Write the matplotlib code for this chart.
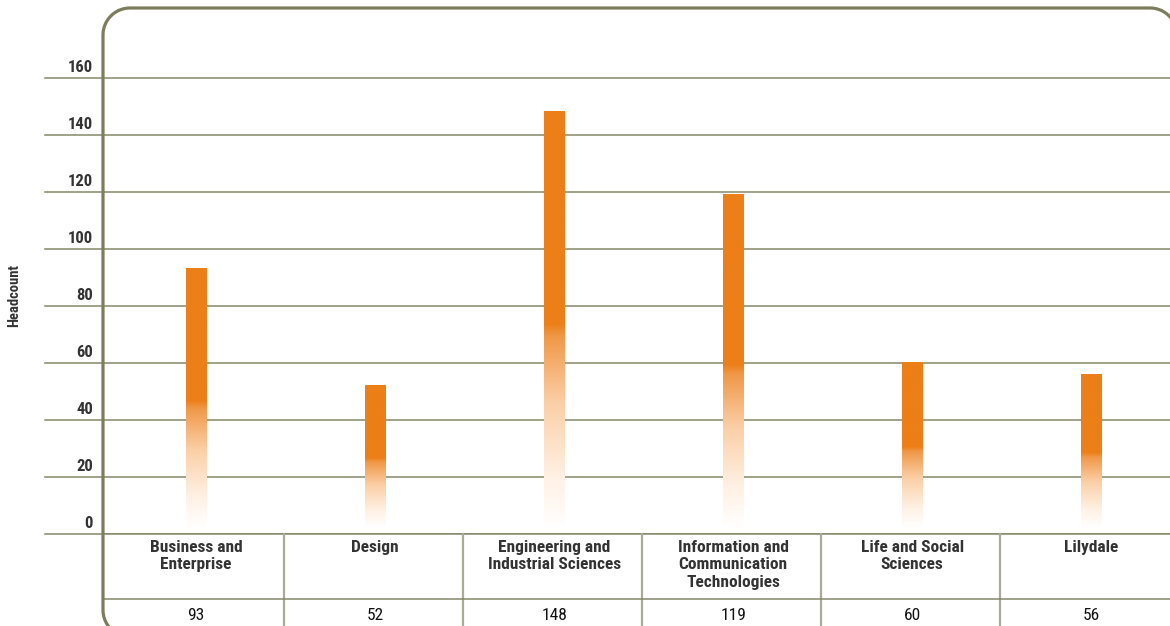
import numpy as np
import matplotlib.pyplot as plt
from matplotlib.colors import LinearSegmentedColormap
from matplotlib.patches import Polygon
from matplotlib.transforms import IdentityTransform

# Headcount por área
categorias = ["Business and\nEnterprise", "Design", "Engineering and\nIndustrial Sciences",
              "Information and\nCommunication\nTechnologies", "Life and Social\nSciences", "Lilydale"]
valores = [93, 52, 148, 119, 60, 56]
ticks_y = [0, 20, 40, 60, 80, 100, 120, 140, 160]

fonte = ["Liberation Sans Narrow", "Roboto Condensed", "DejaVu Sans"]
cor_texto = "#333333"
cor_grade = "#858769"
cor_borda = "#7b7d5c"
cor_tabela = "#a9ab96"

# degradê laranja -> branco na base
grad = LinearSegmentedColormap.from_list("laranja", [
    (0.0, "#ffffff"), (0.12, "#fff1e4"), (0.3, "#fbcfa6"),
    (0.46, "#f09848"), (0.49, "#ec7f18"), (1.0, "#ec7f18")])


def retangulo_arredondado(x0, y0, x1, y1, r, n=20):
    # contorno em pixels, cantos como arcos poligonais
    pts = []
    cantos = [(x1 - r, y1 - r, 0), (x0 + r, y1 - r, 90), (x0 + r, y0 + r, 180), (x1 - r, y0 + r, 270)]
    for cx, cy, a0 in cantos:
        a = np.radians(np.linspace(a0, a0 + 90, n))
        pts += list(zip(cx + r * np.cos(a), cy + r * np.sin(a)))
    return np.array(pts)


fig = plt.figure(figsize=(11.7, 6.26), dpi=100)
ax = fig.add_axes([103 / 1170, 92 / 626, 1074 / 1170, 526 / 626])
ax.axis("off")

# linhas de grade, saindo para a esquerda
for t in ticks_y:
    ax.axhline(t, xmin=-58 / 1074, xmax=1.0, color=cor_grade, lw=1.1, clip_on=False, zorder=1)
    ax.text(-10 / 1074, t + 1.1, str(t), transform=ax.get_yaxis_transform(),
            ha="right", va="bottom", fontsize=12, fontweight="bold",
            family=fonte, color=cor_texto)

# barras com degradê
largura = 0.112
g = np.linspace(0, 1, 256).reshape(-1, 1)
for i, v in enumerate(valores):
    ax.imshow(g, cmap=grad, origin="lower", aspect="auto",
              extent=[i - largura / 2, i + largura / 2, 2, v], zorder=2,
              interpolation="bilinear")
ax.set_xlim(-0.52, 5.48)
ax.set_ylim(0, 526 / 2.85)

# tabela embaixo do gráfico
tr = ax.get_xaxis_transform()
lin_valores = -65 / 526
for i, (c, v) in enumerate(zip(categorias, valores)):
    ax.text(i, -6 / 526, c, transform=tr, ha="center", va="top", fontsize=12.5,
            fontweight="bold", family=fonte, color=cor_texto, linespacing=1.2)
    ax.text(i, -81 / 526, str(v), transform=tr, ha="center", va="center",
            fontsize=12.5, family=fonte, color="#111111")
for i in range(5):
    ax.plot([i + 0.49, i + 0.49], [0, -0.2], transform=tr, color=cor_tabela,
            lw=1.6, clip_on=False)
ax.axhline(0, color=cor_grade, lw=1.1, zorder=1)
ax.plot([-0.52, 5.48], [lin_valores, lin_valores], transform=tr, color=cor_grade,
        lw=1.1, clip_on=False)

# moldura arredondada (coordenadas em pixels)
moldura = Polygon(retangulo_arredondado(103, -11, 1177, 618, 27), closed=True,
                  transform=IdentityTransform(), fill=False,
                  edgecolor=cor_borda, lw=2.3)
fig.add_artist(moldura)

fig.text(14 / 1170, 1 - 296 / 626, "Headcount", rotation=90, ha="center", va="center",
         fontsize=10.5, fontweight="bold", family=fonte, color=cor_texto)

plt.savefig("out.png", dpi=100)
